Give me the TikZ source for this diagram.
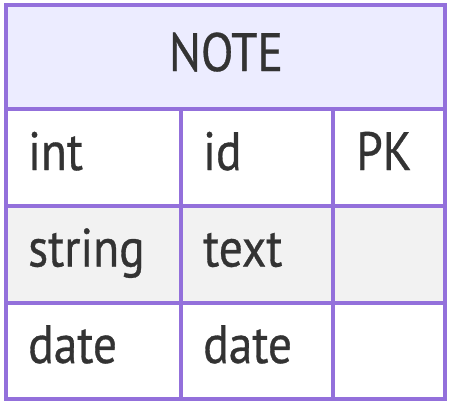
\documentclass[tikz,border=0pt]{standalone}
\usepackage{fontspec}
\setmainfont{PT Sans}[FakeStretch=0.88,FakeBold=0.6]
\definecolor{bordercol}{HTML}{9370DB}
\definecolor{headfill}{HTML}{ECECFF}
\definecolor{rowgray}{HTML}{F2F2F2}
\definecolor{txtcol}{HTML}{333333}
\begin{document}
\begin{tikzpicture}[x=1pt,y=-1pt,
  cell/.style={draw=bordercol,line width=4pt},
  lbl/.style={anchor=base west,inner sep=0pt,text=txtcol,font=\fontsize{54}{60}\selectfont},
  title/.style={anchor=base,inner sep=0pt,text=txtcol,font=\fontsize{54}{60}\selectfont}]
\useasboundingbox (0,0) rectangle (454,408);
% fills
\fill[headfill] (6,4.5) rectangle (445,109);
\fill[white] (6,109) rectangle (445,206);
\fill[rowgray] (6,206) rectangle (445,302.5);
\fill[white] (6,302.5) rectangle (445,399);
% grid
\draw[cell] (6,4.5) rectangle (445,399);
\draw[cell] (6,109) -- (445,109);
\draw[cell] (6,206) -- (445,206);
\draw[cell] (6,302.5) -- (445,302.5);
\draw[cell] (181,109) -- (181,399);
\draw[cell] (333,109) -- (333,399);
% texts
\node[title] (t) at (226,71) {NOTE};
\node[lbl] (a1) at (28,170) {int};
\node[lbl] (b1) at (203,170) {id};
\node[lbl] (c1) at (356,170) {PK};
\node[lbl] (a2) at (28,266.5) {string};
\node[lbl] (b2) at (203,266.5) {text};
\node[lbl] (a3) at (28,363) {date};
\node[lbl] (b3) at (203,363) {date};
\end{tikzpicture}
\end{document}
